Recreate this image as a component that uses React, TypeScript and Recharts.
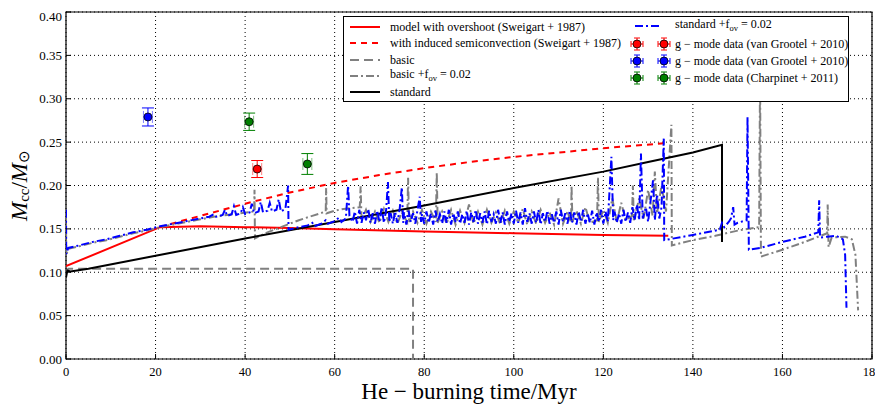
import {
  ComposedChart,
  Line,
  Scatter,
  ErrorBar,
  XAxis,
  YAxis,
  CartesianGrid,
  ReferenceArea,
  Legend,
  Label,
} from "recharts";

type P = [number, number];

const X_TICKS = [0, 20, 40, 60, 80, 100, 120, 140, 160, 180];
const Y_TICKS = [0, 0.05, 0.1, 0.15, 0.2, 0.25, 0.3, 0.35, 0.4];

// model with overshoot (Sweigart 1987)
const overshoot: P[] = [
  [0, 0.107], [21, 0.152], [30, 0.153], [40, 0.152], [50, 0.151], [60, 0.1495],
  [80, 0.147], [100, 0.145], [120, 0.143], [134.5, 0.142],
];

// with induced semiconvection (Sweigart 1987)
const semiconv: P[] = [
  [21, 0.152], [25, 0.158], [30, 0.165], [35, 0.172], [40, 0.179], [50, 0.192],
  [60, 0.203], [70, 0.212], [80, 0.220], [90, 0.227], [100, 0.233], [110, 0.238],
  [120, 0.243], [134.4, 0.249],
];

const basic: P[] = [
  [0, 0.1], [0.5, 0.104], [77.5, 0.104], [77.5, 0.0],
];

const basicFov: P[] = [
  [0, 0.168], [0.05, 0.12], [0.5, 0.127], [3, 0.13], [6, 0.134], [9, 0.137], [12, 0.141],
  [15, 0.145], [18, 0.148], [21, 0.152], [24, 0.155], [27, 0.158], [30, 0.161], [33, 0.164],
  [36, 0.166], [39, 0.168], [42, 0.17], [42.1, 0.195], [42.2, 0.139], [45, 0.146], [48, 0.152],
  [50, 0.156], [52, 0.16], [55, 0.165], [58, 0.17], [58.1, 0.197], [58.2, 0.168], [60, 0.171],
  [62, 0.173], [65.6, 0.175], [65.8, 0.199], [66, 0.16], [67, 0.172], [68, 0.158], [69, 0.17],
  [70, 0.157], [71, 0.173], [72, 0.158], [73, 0.171], [74, 0.156], [75, 0.169], [76.2, 0.158],
  [76.4, 0.209], [76.6, 0.157], [77.5, 0.17], [78.5, 0.157], [79.5, 0.172], [80.5, 0.156],
  [81.5, 0.17], [82.6, 0.158], [82.8, 0.215], [83, 0.157], [84, 0.17], [85, 0.156], [86, 0.172],
  [87, 0.155], [88, 0.171], [89, 0.157], [90, 0.178], [91, 0.156], [92, 0.17], [93, 0.155],
  [94, 0.172], [95, 0.157], [96, 0.169], [97, 0.155], [98, 0.171], [99, 0.156], [100, 0.17],
  [101, 0.157], [102, 0.173], [103, 0.155], [104, 0.17], [105, 0.156], [106, 0.172], [107, 0.157],
  [108, 0.169], [109, 0.155], [110, 0.185], [111, 0.156], [112, 0.17], [112.8, 0.157],
  [112.9, 0.2], [113.1, 0.158], [114, 0.171], [115, 0.156], [116, 0.175], [117, 0.157],
  [118.6, 0.16], [118.8, 0.209], [119, 0.158], [120, 0.172], [121, 0.157], [122, 0.185],
  [123, 0.158], [124, 0.18], [125, 0.16], [126.4, 0.165], [126.6, 0.2], [126.8, 0.16],
  [128, 0.185], [129, 0.162], [130, 0.195], [131, 0.165], [131.5, 0.216], [132, 0.168],
  [133, 0.2], [134, 0.17], [135.2, 0.27], [135.3, 0.131], [140, 0.137], [145, 0.142],
  [150, 0.148], [154.8, 0.152], [155, 0.33], [155.2, 0.118], [160, 0.126], [165, 0.135],
  [170, 0.145], [170.1, 0.178], [170.3, 0.129], [171, 0.14], [174, 0.141], [175.5, 0.138],
  [176.3, 0.12], [176.9, 0.056],
];

const standard: P[] = [
  [0, 0.094], [0.3, 0.102], [1, 0.101], [5, 0.104], [20, 0.119], [40, 0.139], [60, 0.158],
  [80, 0.177], [100, 0.197], [120, 0.216], [130, 0.227], [140, 0.238], [146.5, 0.247],
  [146.5, 0.135],
];

const standardFov: P[] = [
  [0, 0.172], [0.05, 0.121], [0.5, 0.128], [3, 0.131], [6, 0.135], [9, 0.138], [12, 0.142],
  [15, 0.146], [18, 0.149], [21, 0.153], [24, 0.156], [27, 0.159], [30, 0.162], [32, 0.164],
  [33, 0.167], [33.5, 0.164], [35, 0.166], [35.5, 0.172], [36, 0.165], [37, 0.167], [37.5, 0.176],
  [38, 0.166], [39, 0.168], [39.5, 0.175], [40, 0.167], [41, 0.169], [41.5, 0.179], [42, 0.168],
  [43, 0.17], [43.5, 0.181], [44, 0.169], [45, 0.171], [45.5, 0.18], [46, 0.17], [47, 0.172],
  [47.5, 0.184], [48, 0.17], [49, 0.173], [49.6, 0.2], [49.7, 0.149], [52, 0.152], [54, 0.154],
  [55, 0.157], [55.5, 0.153], [57, 0.156], [58, 0.16], [58.5, 0.156], [60, 0.159], [61, 0.163],
  [61.5, 0.158], [62.5, 0.162], [63, 0.2], [63.3, 0.165],
  [64, 0.158], [64.5, 0.17], [65, 0.156], [65.5, 0.172], [66, 0.157], [66.5, 0.169], [67, 0.16],
  [67.5, 0.173], [68, 0.157], [68.5, 0.168], [69, 0.156], [69.5, 0.171], [70, 0.158], [70.5, 0.175],
  [71, 0.157], [71.5, 0.172], [71.9, 0.204], [72.2, 0.158], [72.5, 0.168], [73, 0.156],
  [73.5, 0.17], [74, 0.157], [74.5, 0.172], [75, 0.198], [75.3, 0.157], [75.5, 0.169], [76, 0.155],
  [76.5, 0.171], [77, 0.158], [77.5, 0.168], [78, 0.156], [78.5, 0.172], [79, 0.187], [79.3, 0.158],
  [79.5, 0.167], [80, 0.156], [80.5, 0.17], [81, 0.157], [81.5, 0.168], [82, 0.155], [82.5, 0.171],
  [83, 0.158], [83.5, 0.167], [84, 0.156], [84.5, 0.17], [85, 0.157], [85.5, 0.172], [86, 0.155],
  [86.5, 0.168], [87, 0.158], [87.5, 0.17], [88, 0.156], [88.5, 0.167], [89, 0.157], [89.5, 0.171],
  [90, 0.155], [90.5, 0.169], [91, 0.158], [91.5, 0.172], [92, 0.156], [92.5, 0.168], [93, 0.157],
  [93.5, 0.17], [94, 0.155], [94.5, 0.171], [95, 0.158], [95.5, 0.167], [96, 0.156], [96.5, 0.172],
  [97, 0.157], [97.5, 0.169], [98, 0.155], [98.5, 0.17], [99, 0.158], [99.5, 0.168], [100, 0.156],
  [100.5, 0.171], [101, 0.157], [101.5, 0.169], [102, 0.155], [102.5, 0.174], [103, 0.158],
  [103.5, 0.168], [104, 0.156], [104.5, 0.17], [105, 0.157], [105.5, 0.172], [106, 0.155],
  [106.5, 0.168], [107, 0.158], [107.5, 0.171], [108, 0.156], [108.5, 0.167], [109, 0.157],
  [109.5, 0.17], [110, 0.155], [110.5, 0.172], [111, 0.158], [111.5, 0.168], [112, 0.156],
  [112.5, 0.171], [113, 0.157], [113.5, 0.169], [114, 0.155], [114.5, 0.17], [115, 0.158],
  [115.5, 0.172], [116, 0.156], [116.5, 0.168], [117, 0.157], [117.5, 0.171], [118, 0.155],
  [118.5, 0.169], [119, 0.158], [119.5, 0.172], [120, 0.156], [120.5, 0.17], [121, 0.158],
  [121.8, 0.233], [122.2, 0.16], [122.5, 0.17], [123, 0.157], [123.5, 0.168], [124, 0.156],
  [124.5, 0.172], [125, 0.158], [125.5, 0.169], [126, 0.157], [126.5, 0.175], [127, 0.16],
  [127.5, 0.178], [128, 0.16], [128.4, 0.237], [128.8, 0.162], [129.5, 0.175], [130, 0.158],
  [130.5, 0.18], [131.1, 0.206], [131.5, 0.16], [132, 0.19], [132.5, 0.162], [133, 0.175],
  [133.5, 0.254], [133.6, 0.137], [140, 0.143], [146, 0.149], [146.5, 0.157], [147, 0.152],
  [148, 0.158], [148.5, 0.162], [149, 0.175], [149.3, 0.155], [150, 0.157], [152, 0.16],
  [152.2, 0.279], [152.5, 0.126], [155, 0.128], [160, 0.135], [165, 0.141], [168, 0.146],
  [168.2, 0.183], [168.4, 0.14], [170, 0.141], [172, 0.142], [173.5, 0.138], [174, 0.12],
  [174.3, 0.059],
];

// g-mode data points: x, y, x-error, y-error
const grootelRed = [{ x: 42.7, y: 0.219, ex: 1, ey: 0.0098 }];
const grootelBlue = [{ x: 18.3, y: 0.279, ex: 1, ey: 0.0104 }];
const charpinetGreen = [
  { x: 40.9, y: 0.2735, ex: 1, ey: 0.01 },
  { x: 53.9, y: 0.2248, ex: 1, ey: 0.012 },
];

const RED = "#ff0000";
const GRAY = "#808080";
const BLUE = "#0000ff";
const GREEN = "#008000";
const FONT = "Liberation Serif, serif";

const DASH = "6 5";
const DASH_GRAY = "9 5";
const DASH_DOT = "8 3 2 3";

const rows = (pts: P[]) => pts.map(([x, y]) => ({ x, y }));

const LINES = [
  { key: "overshoot", data: overshoot, color: RED, dash: undefined },
  { key: "semiconv", data: semiconv, color: RED, dash: DASH },
  { key: "basic", data: basic, color: GRAY, dash: DASH_GRAY },
  { key: "basicFov", data: basicFov, color: GRAY, dash: DASH_DOT },
  { key: "standard", data: standard, color: "#000", dash: undefined },
  { key: "standardFov", data: standardFov, color: BLUE, dash: DASH_DOT },
];

const POINTS = [
  { key: "red", data: grootelRed, color: RED },
  { key: "blue", data: grootelBlue, color: BLUE },
  { key: "green", data: charpinetGreen, color: GREEN },
];

const Fov = ({ pre }: { pre: string }) => (
  <span>
    {pre} +f<sub style={{ fontSize: 8.5 }}>ov</sub> = 0.02
  </span>
);

const LineIcon = ({ color, dash, w = 30 }: { color: string; dash?: string; w?: number }) => (
  <svg width={w} height={10} style={{ display: "block" }}>
    <line x1={0} y1={5} x2={w} y2={5} stroke={color} strokeWidth={2} strokeDasharray={dash} />
  </svg>
);

const MarkerIcon = ({ color }: { color: string }) => (
  <svg width={14} height={14} style={{ display: "block" }}>
    <line x1={7} y1={1} x2={7} y2={13} stroke={color} strokeWidth={1} />
    <line x1={4} y1={1} x2={10} y2={1} stroke={color} strokeWidth={1} />
    <line x1={4} y1={13} x2={10} y2={13} stroke={color} strokeWidth={1} />
    <line x1={1} y1={7} x2={13} y2={7} stroke={color} strokeWidth={1} />
    <line x1={1} y1={4} x2={1} y2={10} stroke={color} strokeWidth={1} />
    <line x1={13} y1={4} x2={13} y2={10} stroke={color} strokeWidth={1} />
    <circle cx={7} cy={7} r={4} fill={color} stroke="#000" strokeWidth={0.8} />
  </svg>
);

const rowStyle: React.CSSProperties = {
  position: "absolute",
  display: "flex",
  alignItems: "center",
  height: 16,
  whiteSpace: "nowrap",
};

function LegendBox() {
  const left = [
    { icon: <LineIcon color={RED} />, text: <span>model with overshoot (Sweigart + 1987)</span> },
    { icon: <LineIcon color={RED} dash={DASH} />, text: <span>with induced semiconvection (Sweigart + 1987)</span> },
    { icon: <LineIcon color={GRAY} dash={DASH_GRAY} />, text: <span>basic</span> },
    { icon: <LineIcon color={GRAY} dash={DASH_DOT} />, text: <Fov pre="basic" /> },
    { icon: <LineIcon color="#000" />, text: <span>standard</span> },
  ];
  const right = [
    { color: RED, text: <span>g − mode data (van Grootel + 2010)</span> },
    { color: BLUE, text: <span>g − mode data (van Grootel + 2010)</span> },
    { color: GREEN, text: <span>g − mode data (Charpinet + 2011)</span> },
  ];
  return (
    <div
      style={{
        position: "relative",
        width: 504,
        height: 84,
        border: "1px solid #000",
        background: "#fff",
        fontFamily: FONT,
        fontSize: 12,
        lineHeight: "16px",
        color: "#000",
      }}
    >
      {left.map((r, i) => (
        <div key={i} style={{ ...rowStyle, left: 6, top: 2 + i * 16.3 }}>
          <div style={{ width: 40 }}>{r.icon}</div>
          {r.text}
        </div>
      ))}
      <div style={{ ...rowStyle, left: 291, top: 1 }}>
        <div style={{ width: 40 }}>
          <LineIcon color={BLUE} dash={DASH_DOT} w={27} />
        </div>
        <Fov pre="standard" />
      </div>
      {right.map((r, i) => (
        <div key={i} style={{ ...rowStyle, left: 286, top: 19 + i * 16.8 }}>
          <div style={{ width: 45, display: "flex", justifyContent: "space-between" }}>
            <MarkerIcon color={r.color} />
            <div style={{ marginRight: 4 }}>
              <MarkerIcon color={r.color} />
            </div>
          </div>
          {r.text}
        </div>
      ))}
    </div>
  );
}

const YTitle = (props: any) => {
  const vb = props.viewBox || { x: 0, y: 0, width: 0, height: 0 };
  const cx = 11;
  const cy = vb.y + vb.height / 2;
  return (
    <text
      x={cx}
      y={cy}
      transform={`rotate(-90, ${cx}, ${cy})`}
      textAnchor="middle"
      dominantBaseline="central"
      fontFamily={FONT}
      fontSize={23}
      fill="#000"
    >
      <tspan fontStyle="italic">M</tspan>
      <tspan fontSize={15} dy={5}>cc</tspan>
      <tspan dy={-5}>/</tspan>
      <tspan fontStyle="italic">M</tspan>
      <tspan fontSize={15} dy={5}>⊙</tspan>
    </text>
  );
};

const XTitle = (props: any) => {
  const vb = props.viewBox || { x: 0, y: 0, width: 0, height: 0 };
  return (
    <text
      x={vb.x + vb.width / 2}
      y={391}
      textAnchor="middle"
      fontFamily={FONT}
      fontSize={23}
      fill="#000"
    >
      He − burning time/Myr
    </text>
  );
};

export default function App() {
  return (
    <div style={{ fontFamily: FONT }}>
      <ComposedChart width={875} height={396} margin={{ top: 4, right: 11, left: 0, bottom: 0 }}>
        <CartesianGrid
          stroke="#000"
          strokeDasharray="1 3"
          strokeWidth={1}
          horizontalValues={Y_TICKS}
          verticalValues={X_TICKS}
        />
        <XAxis
          type="number"
          dataKey="x"
          domain={[0, 180]}
          ticks={X_TICKS}
          height={45}
          tickSize={-5}
          tickMargin={13}
          axisLine={false}
          tickLine={{ stroke: "#000" }}
          tick={{ fontFamily: FONT, fontSize: 12.5, fill: "#000" }}
          allowDataOverflow
        >
          <Label content={XTitle} />
        </XAxis>
        <XAxis
          xAxisId="top"
          orientation="top"
          type="number"
          domain={[0, 180]}
          ticks={X_TICKS}
          height={0}
          tickSize={-5}
          axisLine={false}
          tickLine={{ stroke: "#000" }}
          tick={false}
        />
        <YAxis
          type="number"
          dataKey="y"
          domain={[0, 0.4]}
          ticks={Y_TICKS}
          width={58}
          tickSize={-5}
          tickMargin={9}
          axisLine={false}
          tickLine={{ stroke: "#000" }}
          tick={{ fontFamily: FONT, fontSize: 13, fill: "#000" }}
          tickFormatter={(v: number) => v.toFixed(2)}
          allowDataOverflow
        >
          <Label content={YTitle} />
        </YAxis>
        <YAxis
          yAxisId="right"
          orientation="right"
          type="number"
          domain={[0, 0.4]}
          ticks={Y_TICKS}
          width={0}
          tickSize={-5}
          axisLine={false}
          tickLine={{ stroke: "#000" }}
          tick={false}
        />
        {LINES.map((l) => (
          <Line
            key={l.key}
            data={rows(l.data)}
            dataKey="y"
            type="linear"
            stroke={l.color}
            strokeWidth={2}
            strokeDasharray={l.dash}
            dot={false}
            isAnimationActive={false}
            legendType="none"
          />
        ))}
        {POINTS.map((p) => (
          <Scatter
            key={p.key}
            data={p.data}
            dataKey="y"
            isAnimationActive={false}
            legendType="none"
            shape={(s: any) => (
              <circle cx={s.cx} cy={s.cy} r={4} fill={p.color} stroke="#000" strokeWidth={0.8} />
            )}
          >
            <ErrorBar dataKey="ey" direction="y" width={6} stroke={p.color} strokeWidth={1} />
            <ErrorBar dataKey="ex" direction="x" width={6} stroke={p.color} strokeOpacity={0.5} strokeWidth={1} />
          </Scatter>
        ))}
        <ReferenceArea x1={0} x2={180} y1={0} y2={0.4} fill="none" stroke="#000" strokeWidth={1.2} />
        <Legend
          layout="horizontal"
          verticalAlign="middle"
          align="center"
          content={() => <LegendBox />}
          wrapperStyle={{ top: 8, left: 335, width: 506, height: 86 }}
        />
      </ComposedChart>
    </div>
  );
}
